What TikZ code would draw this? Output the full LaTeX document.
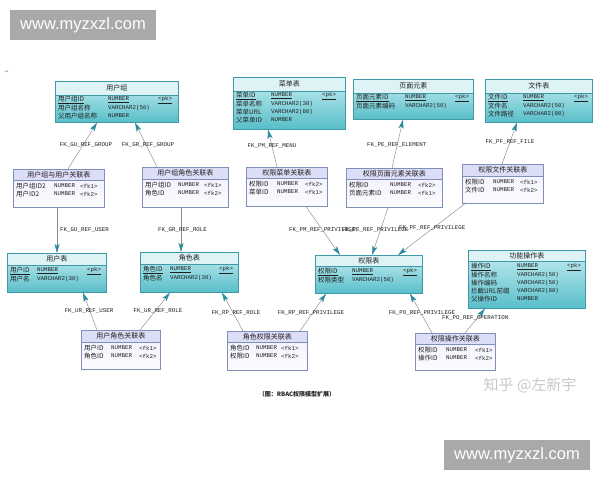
\documentclass[tikz,border=0pt]{standalone}
\usepackage{fontspec}
\setmainfont{Liberation Sans}
\newfontfamily\cjk{Noto Sans CJK SC}
\newfontfamily\monof{Liberation Mono}
\newfontfamily\symf{DejaVu Sans}
\usetikzlibrary{arrows.meta}
\definecolor{entline}{HTML}{3E98A8}
\definecolor{enthead}{HTML}{DDF3F6}
\definecolor{enttop}{HTML}{C4EDF2}
\definecolor{entbot}{HTML}{58BEC9}
\definecolor{ascline}{HTML}{7F8FB8}
\definecolor{aschead}{HTML}{DCDDF6}
\definecolor{asctop}{HTML}{F0F0FD}
\definecolor{ascbot}{HTML}{FBFBFF}
\definecolor{linec}{HTML}{8A8A8A}
\definecolor{arrc}{HTML}{2C8C9E}
\definecolor{txt}{HTML}{202020}
\definecolor{wmgray}{HTML}{A9A9A9}
\definecolor{zhgray}{HTML}{C9C9C9}

\tikzset{
  entbox/.style={draw=entline, line width=0.6pt, top color=enttop, bottom color=entbot, inner sep=0pt, rectangle},
  ascbox/.style={draw=ascline, line width=0.6pt, top color=asctop, bottom color=ascbot, inner sep=0pt, rectangle},
  entheadfill/.style={fill=enthead},
  ascheadfill/.style={fill=aschead},
  entrule/.style={draw=entline, line width=0.6pt},
  ascrule/.style={draw=ascline, line width=0.6pt},
  ttl/.style={inner sep=0pt, text=txt, font=\cjk\fontsize{7}{8}\selectfont},
  rname/.style={anchor=west, inner sep=0pt, text=txt, font=\cjk\fontsize{6.5}{7}\selectfont},
  rtype/.style={anchor=west, inner sep=0pt, text=txt, font=\monof\fontsize{5.8}{7}\selectfont},
  fk/.style={draw=linec, line width=0.45pt, -{Stealth[length=9pt,width=5pt,inset=2pt,color=arrc]}},
  fklabel/.style={inner sep=0pt, text=txt, font=\monof\fontsize{5.8}{7}\selectfont},
}

% #1 kind (ent/asc), #2 name, #3 x, #4 y, #5 width, #6 height, #7 header height, #8 title
\newcommand\tablebox[8]{%
  \node[#1box, minimum width=#5pt, minimum height=#6pt, anchor=north west] (#2) at (#3,#4) {};
  \fill[#1headfill] (#2.north west) rectangle ([yshift=-#7pt]#2.north east);
  \draw[#1rule] ([yshift=-#7pt]#2.north west) -- ([yshift=-#7pt]#2.north east);
  \draw[#1rule] (#2.north west) rectangle (#2.south east);
  \node[ttl] (#2-title) at ([yshift=-#7pt/2]#2.north) {#8};
}
% #1 id, #2 y, #3 x name, #4 name, #5 x type, #6 type, #7 x key, #8 key
\newcommand\trow[8]{%
  \node[rname] (#1-n) at (#3,#2) {#4};
  \node[rtype] (#1-t) at (#5,#2) {#6};
  \node[rtype] (#1-k) at (#7,#2) {#8};
}

\begin{document}
\begin{tikzpicture}[x=1pt,y=-1pt]
\fill[white] (0,0) rectangle (600,480);
\useasboundingbox (0,0) rectangle (600,480);

% watermarks
\fill[wmgray] (10,10) rectangle (156,40);
\node[inner sep=0pt, text=white, font=\fontsize{16.5}{18}\selectfont] (wm1) at (83,25.5) {www.myzxzl.com};
\fill[wmgray] (444,440) rectangle (590,470);
\node[inner sep=0pt, text=white, font=\fontsize{16.5}{18}\selectfont] (wm2) at (517,455.5) {www.myzxzl.com};
\node[inner sep=0pt, text=zhgray, font=\cjk\fontsize{15}{16}\selectfont] (zh) at (530,385) {知乎 @左新宇};
\node[inner sep=0pt, text=gray, font=\symf\fontsize{5}{6}\selectfont] (ret) at (7,72) {↵};

% ===== entity tables =====
\tablebox{ent}{g}{55}{81}{123}{41}{14}{用户组}
\trow{g1}{100}{58}{\underline{用户组ID}}{108}{\underline{NUMBER}}{158}{\underline{<pk>}}
\trow{g2}{108}{58}{用户组名称}{108}{VARCHAR2(50)}{158}{}
\trow{g3}{116}{58}{父用户组名称}{108}{NUMBER}{158}{}

\tablebox{ent}{m}{233}{77}{112}{52}{14}{菜单表}
\trow{m1}{96}{236}{\underline{菜单ID}}{271}{\underline{NUMBER}}{322}{\underline{<pk>}}
\trow{m2}{104}{236}{菜单名称}{271}{VARCHAR2(30)}{322}{}
\trow{m3}{112}{236}{菜单URL}{271}{VARCHAR2(80)}{322}{}
\trow{m4}{120}{236}{父菜单ID}{271}{NUMBER}{322}{}

\tablebox{ent}{e}{353}{79}{120}{40}{14}{页面元素}
\trow{e1}{98}{356}{\underline{页面元素ID}}{405}{\underline{NUMBER}}{455}{\underline{<pk>}}
\trow{e2}{106}{356}{页面元素编码}{405}{VARCHAR2(50)}{455}{}

\tablebox{ent}{f}{485}{79}{107}{43}{14}{文件表}
\trow{f1}{98}{488}{\underline{文件ID}}{523}{\underline{NUMBER}}{574}{\underline{<pk>}}
\trow{f2}{106}{488}{文件名}{523}{VARCHAR2(50)}{574}{}
\trow{f3}{114}{488}{文件路径}{523}{VARCHAR2(80)}{574}{}

\tablebox{ent}{u}{7}{253}{99}{39}{12}{用户表}
\trow{u1}{271}{10}{\underline{用户ID}}{37}{\underline{NUMBER}}{87}{\underline{<pk>}}
\trow{u2}{279}{10}{用户名}{37}{VARCHAR2(30)}{87}{}

\tablebox{ent}{r}{140}{252}{98}{40}{12}{角色表}
\trow{r1}{270}{143}{\underline{角色ID}}{170}{\underline{NUMBER}}{219}{\underline{<pk>}}
\trow{r2}{278}{143}{角色名}{170}{VARCHAR2(30)}{219}{}

\tablebox{ent}{p}{315}{255}{107}{38}{11}{权限表}
\trow{p1}{272}{318}{\underline{权限ID}}{352}{\underline{NUMBER}}{403}{\underline{<pk>}}
\trow{p2}{280}{318}{权限类型}{352}{VARCHAR2(50)}{403}{}

\tablebox{ent}{o}{468}{250}{117}{58}{11}{功能操作表}
\trow{o1}{267}{471}{\underline{操作ID}}{517}{\underline{NUMBER}}{567}{\underline{<pk>}}
\trow{o2}{275}{471}{操作名称}{517}{VARCHAR2(50)}{567}{}
\trow{o3}{283}{471}{操作编码}{517}{VARCHAR2(50)}{567}{}
\trow{o4}{291}{471}{拦截URL前缀}{517}{VARCHAR2(80)}{567}{}
\trow{o5}{299}{471}{父操作ID}{517}{NUMBER}{567}{}

% ===== association tables =====
\tablebox{asc}{gu}{13}{169}{91}{38}{11}{用户组与用户关联表}
\trow{gu1}{186}{16}{用户组ID2}{54}{NUMBER}{80}{<fk1>}
\trow{gu2}{194}{16}{用户ID2}{54}{NUMBER}{80}{<fk2>}

\tablebox{asc}{gr}{142}{167}{86}{40}{12}{用户组角色关联表}
\trow{gr1}{185}{145}{用户组ID}{178}{NUMBER}{204}{<fk1>}
\trow{gr2}{193}{145}{角色ID}{178}{NUMBER}{204}{<fk2>}

\tablebox{asc}{pm}{246}{167}{81}{39}{11}{权限菜单关联表}
\trow{pm1}{184}{249}{权限ID}{277}{NUMBER}{305}{<fk2>}
\trow{pm2}{192}{249}{菜单ID}{277}{NUMBER}{305}{<fk1>}

\tablebox{asc}{pe}{346}{168}{96}{39}{11}{权限页面元素关联表}
\trow{pe1}{185}{349}{权限ID}{390}{NUMBER}{418}{<fk2>}
\trow{pe2}{193}{349}{页面元素ID}{390}{NUMBER}{418}{<fk1>}

\tablebox{asc}{pf}{462}{164}{81}{39}{12}{权限文件关联表}
\trow{pf1}{182}{465}{权限ID}{493}{NUMBER}{520}{<fk1>}
\trow{pf2}{190}{465}{文件ID}{493}{NUMBER}{520}{<fk2>}

\tablebox{asc}{ur}{81}{330}{79}{39}{12}{用户角色关联表}
\trow{ur1}{348}{84}{用户ID}{111}{NUMBER}{139}{<fk1>}
\trow{ur2}{356}{84}{角色ID}{111}{NUMBER}{139}{<fk2>}

\tablebox{asc}{rp}{227}{331}{80}{39}{11}{角色权限关联表}
\trow{rp1}{348}{230}{角色ID}{256}{NUMBER}{281}{<fk1>}
\trow{rp2}{356}{230}{权限ID}{256}{NUMBER}{281}{<fk2>}

\tablebox{asc}{po}{415}{333}{80}{37}{11}{权限操作关联表}
\trow{po1}{350}{418}{权限ID}{446}{NUMBER}{475}{<fk1>}
\trow{po2}{358}{418}{操作ID}{446}{NUMBER}{475}{<fk2>}

% ===== connectors =====
\draw[fk] ([xshift=55pt]gu.north west) -- ([xshift=42pt]g.south west);
\draw[fk] ([xshift=15pt]gr.north west) -- ([xshift=80pt]g.south west);
\draw[fk] ([xshift=44pt]gu.south west) -- ([xshift=50pt]u.north west);
\draw[fk] ([xshift=39pt]gr.south west) -- ([xshift=41pt]r.north west);
\draw[fk] ([xshift=31pt]pm.north west) -- ([xshift=35pt]m.south west);
\draw[fk] ([xshift=60pt]pm.south west) -- ([xshift=25pt]p.north west);
\draw[fk] ([xshift=46pt]pe.north west) -- ([xshift=50pt]e.south west);
\draw[fk] ([xshift=42pt]pe.south west) -- ([xshift=57pt]p.north west);
\draw[fk] ([xshift=40pt]pf.north west) -- ([xshift=32pt]f.south west);
\draw[fk] ([xshift=3pt]pf.south west) -- ([xshift=83pt]p.north west);
\draw[fk] ([xshift=16pt]ur.north west) -- ([xshift=76pt]u.south west);
\draw[fk] ([xshift=59pt]ur.north west) -- ([xshift=30pt]r.south west);
\draw[fk] ([xshift=16pt]rp.north west) -- ([xshift=82pt]r.south west);
\draw[fk] ([xshift=73pt]rp.north west) -- ([xshift=11pt]p.south west);
\draw[fk] ([xshift=17pt]po.north west) -- ([xshift=95pt]p.south west);
\draw[fk] ([xshift=50pt]po.north west) -- ([xshift=17pt]o.south west);

% ===== connector labels =====
\node[fklabel] (l1) at (86,145) {FK\_GU\_REF\_GROUP};
\node[fklabel] (l2) at (148,145) {FK\_GR\_REF\_GROUP};
\node[fklabel, anchor=west] (l3) at (60,230) {FK\_GU\_REF\_USER};
\node[fklabel, anchor=west] (l4) at (158,230) {FK\_GR\_REF\_ROLE};
\node[fklabel] (l5) at (272,146) {FK\_PM\_REF\_MENU};
\node[fklabel, anchor=west] (l6) at (367,145) {FK\_PE\_REF\_ELEMENT};
\node[fklabel] (l7) at (510,142) {FK\_PF\_REF\_FILE};
\node[fklabel, anchor=west] (l8) at (289,230) {FK\_PM\_REF\_PRIVILEGE};
\node[fklabel, anchor=west] (l9) at (342,230) {FK\_PE\_REF\_PRIVILEGE};
\node[fklabel, anchor=west] (l10) at (399,228) {FK\_PF\_REF\_PRIVILEGE};
\node[fklabel] (l11) at (89,311) {FK\_UR\_REF\_USER};
\node[fklabel] (l12) at (158,311) {FK\_UR\_REF\_ROLE};
\node[fklabel] (l13) at (236,313) {FK\_RP\_REF\_ROLE};
\node[fklabel] (l14) at (311,313) {FK\_RP\_REF\_PRIVILEGE};
\node[fklabel] (l15) at (422,313) {FK\_PO\_REF\_PRIVILEGE};
\node[fklabel, anchor=west] (l16) at (442,318) {FK\_PO\_REF\_OPERATION};

% caption
\node[inner sep=0pt, text=txt, font=\cjk\bfseries\fontsize{6}{7}\selectfont] (cap) at (297,394) {（图：RBAC权限模型扩展）};
\end{tikzpicture}
\end{document}
